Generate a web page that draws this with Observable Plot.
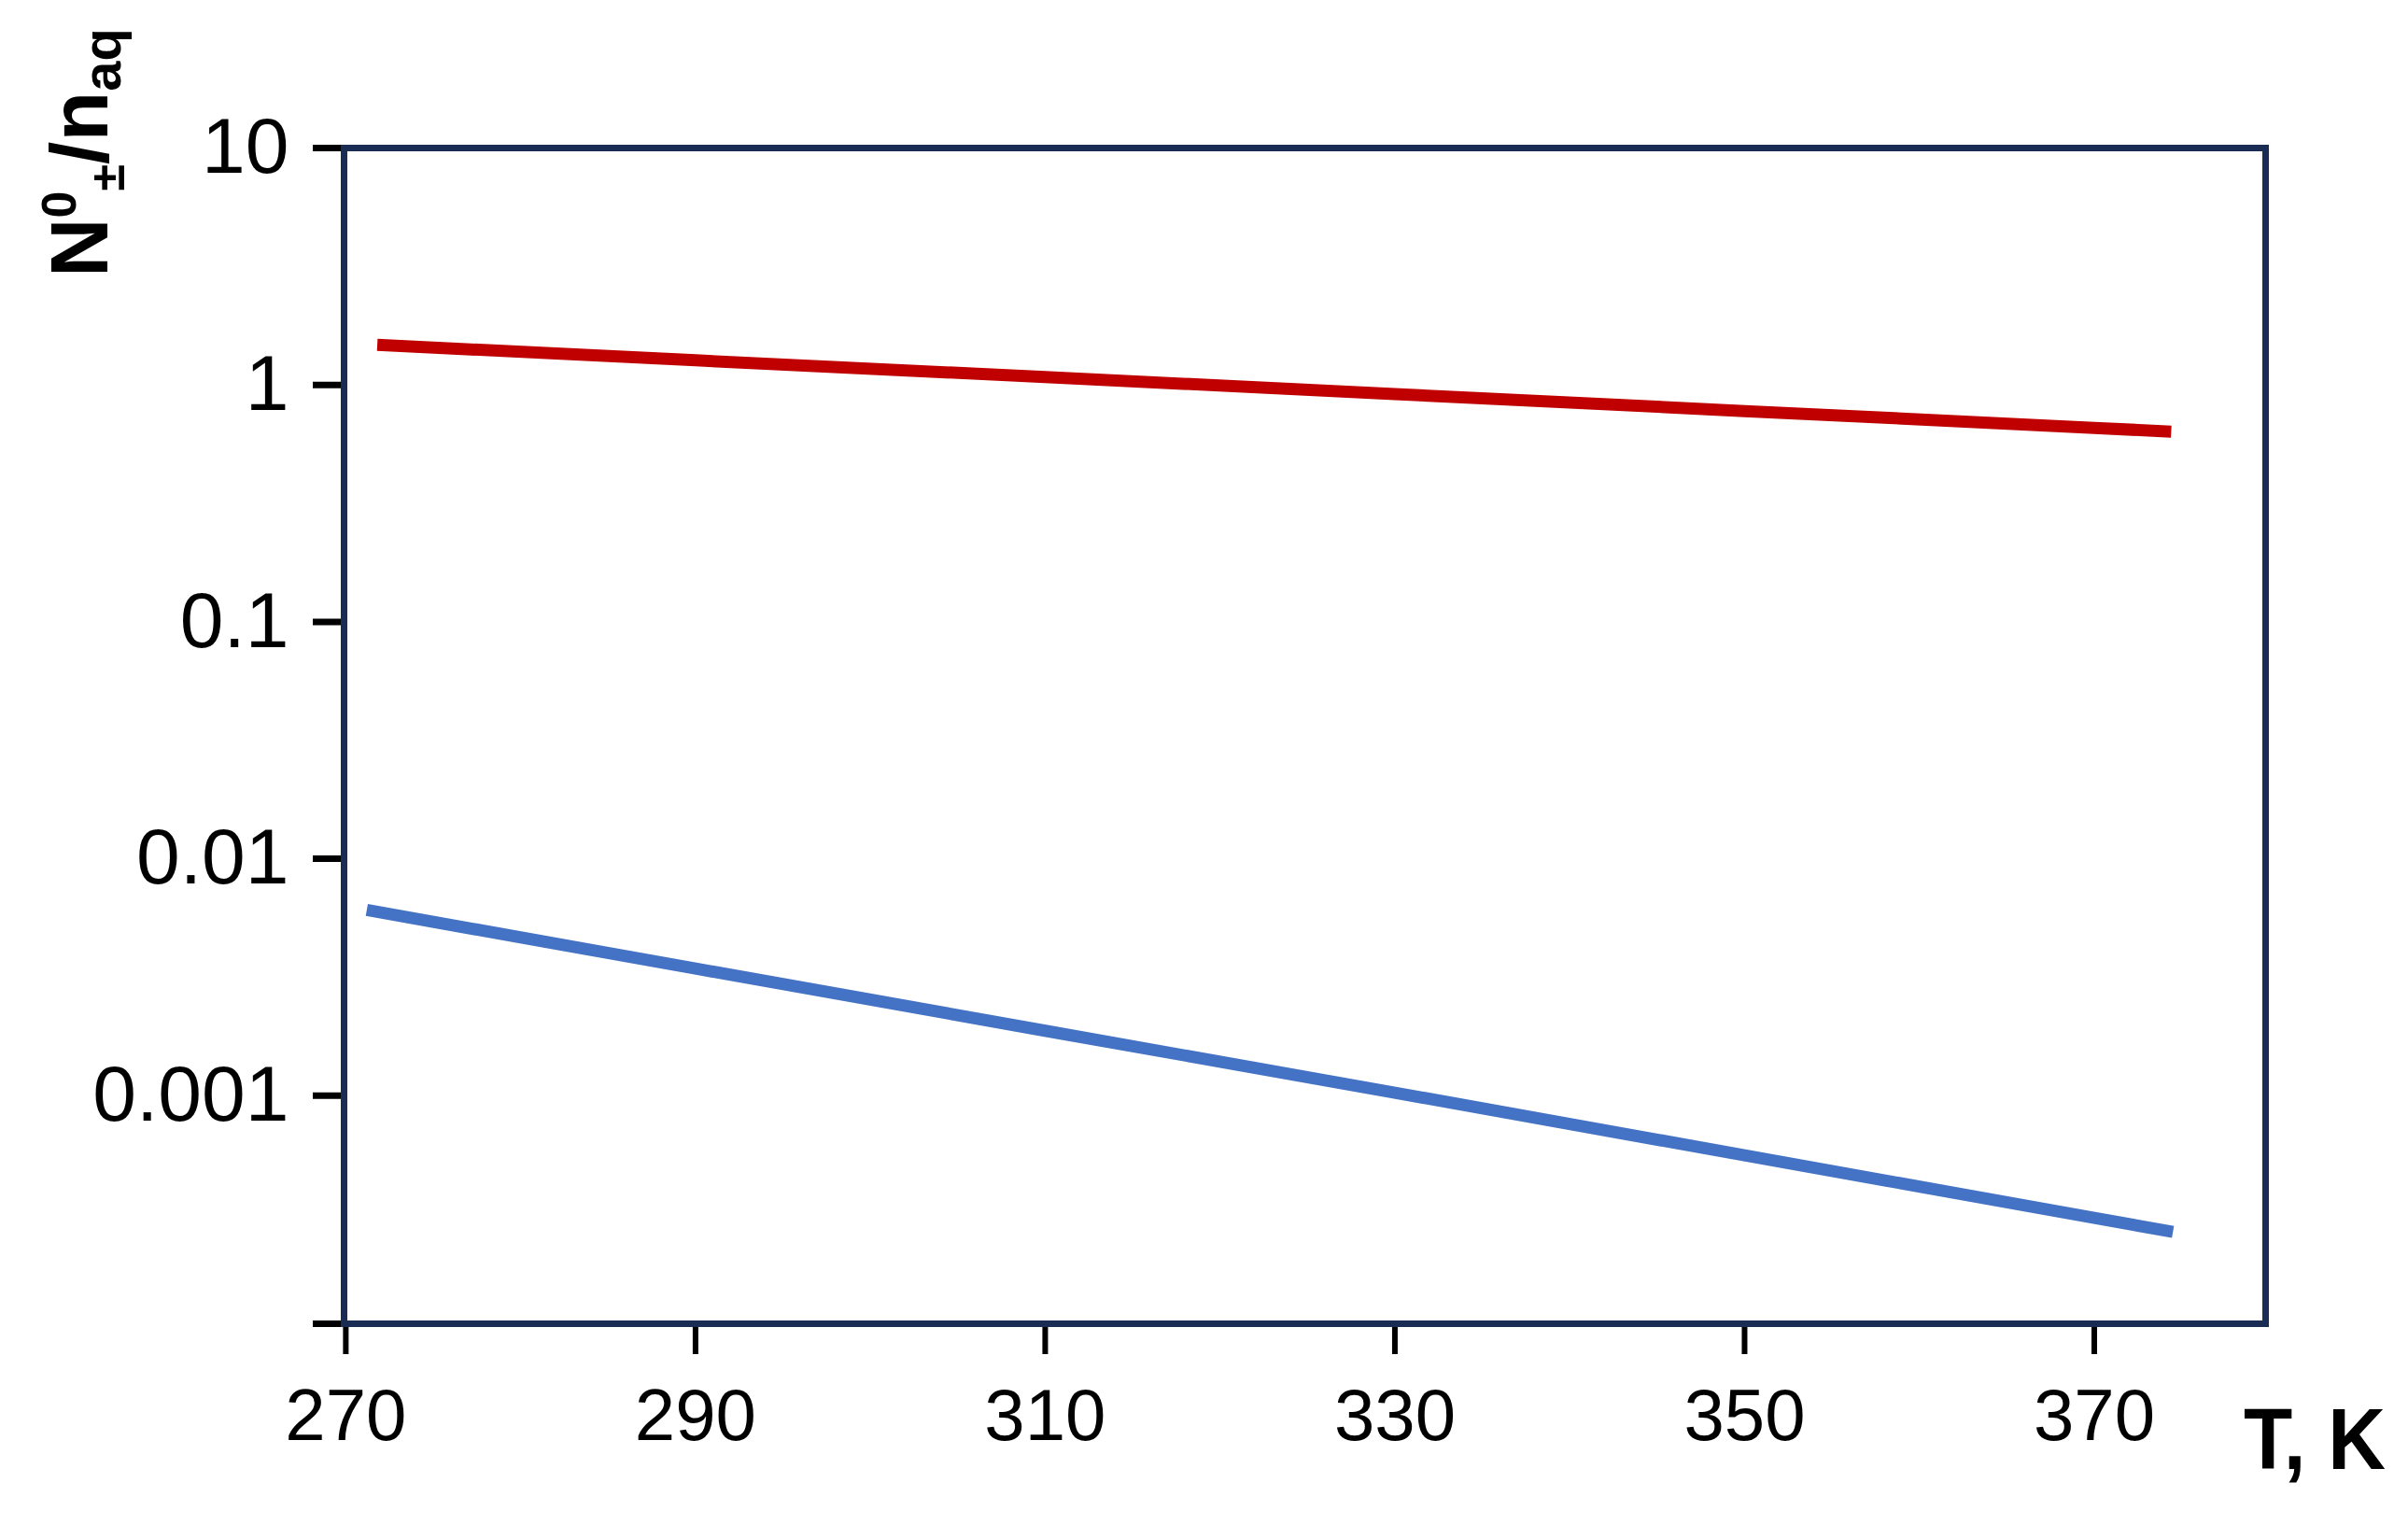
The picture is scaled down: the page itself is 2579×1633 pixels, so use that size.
<!DOCTYPE html>
<html>
<head>
<meta charset="utf-8">
<script src="https://cdn.jsdelivr.net/npm/d3@7"></script>
<script src="https://cdn.jsdelivr.net/npm/@observablehq/plot@0.6"></script>
<style>
  html, body { margin: 0; padding: 0; background: #fff; }
  #chart svg { display: block; }
</style>
</head>
<body>
<div id="chart"></div>
<script>
// ---- data ----
const redT = [271.8, 290, 310, 330, 350, 370, 374.4];
const redV = [1.477, 1.27, 1.08, 0.915, 0.776, 0.659, 0.635];
const blueT = [271.2, 290, 310, 330, 350, 370, 374.5];
const blueV = [0.00608, 0.00344, 0.00188, 0.00103, 0.00056, 0.000305, 0.000266];

const xTicks = [270, 290, 310, 330, 350, 370];
const yMin = 1.09e-4;
const yTicks = [10, 1, 0.1, 0.01, 0.001, yMin];
const yTickLabels = ["10", "1", "0.1", "0.01", "0.001", ""];

const redData = redT.map((t, i) => ({T: t, v: redV[i]}));
const blueData = blueT.map((t, i) => ({T: t, v: blueV[i]}));

const font = "'Liberation Sans', Arial, sans-serif";

const chart = Plot.plot({
  width: 2579,
  height: 1633,
  marginLeft: 368,
  marginRight: 153,
  marginTop: 158,
  marginBottom: 216,
  style: {fontFamily: font, background: "#fff", color: "#000"},
  x: {domain: [269.9, 379.8]},
  y: {type: "log", domain: [yMin, 10]},
  marks: [
    Plot.axisX({
      ticks: xTicks, tickSize: 33, tickPadding: 36, fontSize: 78,
      strokeWidth: 6, label: null, tickFormat: d => String(d)
    }),
    Plot.axisY({
      ticks: yTicks, tickSize: 33, tickPadding: 26, fontSize: 84,
      strokeWidth: 7, label: null,
      tickFormat: d => yTickLabels[yTicks.indexOf(d)] ?? ""
    }),
    Plot.line(blueData, {x: "T", y: "v", stroke: "#4472c4", strokeWidth: 13, strokeLinecap: "butt"}),
    Plot.line(redData, {x: "T", y: "v", stroke: "#c00000", strokeWidth: 13, strokeLinecap: "butt"}),
    Plot.frame({stroke: "#1b2c54", strokeWidth: 7})
  ]
});

document.getElementById("chart").appendChild(chart);

const svg = d3.select(chart);

// x-axis title
svg.append("text")
  .attr("x", 2403).attr("y", 1573)
  .attr("text-anchor", "start")
  .attr("font-family", font).attr("font-weight", "bold")
  .attr("font-size", 92)
  .attr("textLength", 152).attr("lengthAdjust", "spacingAndGlyphs")
  .attr("fill", "#000")
  .text("T, K");

// y-axis title (rotated), N⁰±/naq
const yl = svg.append("text")
  .attr("transform", "translate(115,297) rotate(-90)")
  .attr("text-anchor", "start")
  .attr("font-family", font).attr("font-weight", "bold")
  .attr("font-size", 88)
  .attr("fill", "#000");
yl.append("tspan").text("N");
yl.append("tspan").attr("font-size", 52).attr("dy", -34).text("0");
yl.append("tspan").attr("font-size", 52).attr("dy", 52).text("±");
yl.append("tspan").attr("dy", -18).text("/n");
yl.append("tspan").attr("font-size", 58).attr("dy", 14).text("aq");
</script>
</body>
</html>
